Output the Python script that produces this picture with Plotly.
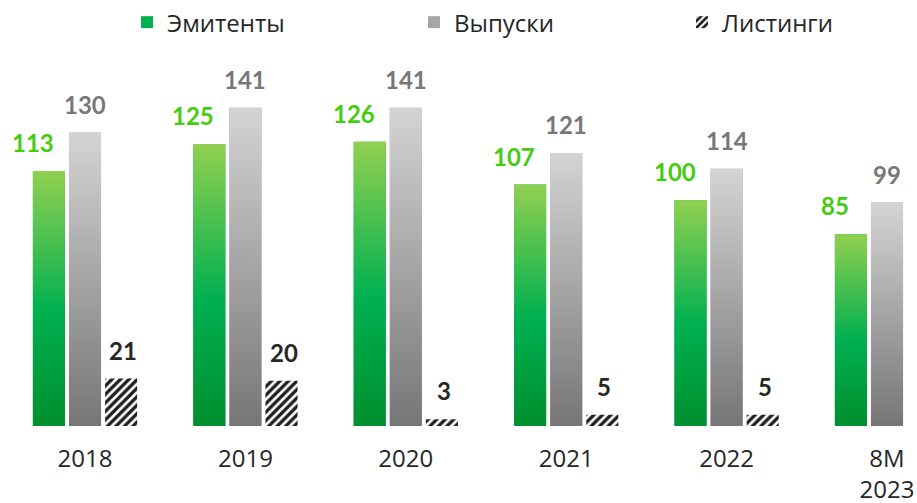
import plotly.graph_objects as go

categories = ["2018", "2019", "2020", "2021", "2022", "8M<br>2023"]
issuers = [113, 125, 126, 107, 100, 85]
issues = [130, 141, 141, 121, 114, 99]
listings = [21, 20, 3, 5, 5, None]
series_names = ["Эмитенты", "Выпуски", "Листинги"]

W = 0.2
offsets = [-0.225, 0.0, 0.225]
idx = list(range(len(categories)))
series = [issuers, issues, listings]

green_scale = [[0, "#008F2E"], [0.45, "#00B050"], [1, "#92D050"]]
gray_scale = [[0, "#767676"], [1, "#D4D4D4"]]

fig = go.Figure()

# base bars (also provide legend entries)
fig.add_trace(go.Bar(name=series_names[0], x=[i + offsets[0] for i in idx], y=issuers, width=W,
                     marker=dict(color="#00B050", line_width=0), legend="legend", hoverinfo="skip"))
fig.add_trace(go.Bar(name=series_names[1], x=[i + offsets[1] for i in idx], y=issues, width=W,
                     marker=dict(color="#A6A6A6", line_width=0), legend="legend2", hoverinfo="skip"))
fig.add_trace(go.Bar(name=series_names[2], x=[i + offsets[2] for i in idx], y=listings, width=W,
                     marker=dict(color="white", line_width=0,
                                 pattern=dict(shape="/", fgcolor="#1E1E1E", bgcolor="white",
                                              fgopacity=1, size=6, solidity=0.55)),
                     legend="legend3", hoverinfo="skip"))

# gradient overlays for first two series
for s, scale in [(0, green_scale), (1, gray_scale)]:
    for i, v in zip(idx, series[s]):
        if v is None:
            continue
        xc = i + offsets[s]
        fig.add_trace(go.Scatter(
            x=[xc - W / 2, xc + W / 2, xc + W / 2, xc - W / 2, xc - W / 2],
            y=[0, 0, v, v, 0],
            mode="lines", fill="toself", line=dict(width=0),
            fillgradient=dict(type="vertical", colorscale=scale),
            hoverinfo="skip", showlegend=False))

# value labels
label_styles = [("#44CC11", -16), ("#777777", 0), ("#262626", 2)]
for s, (col, xs) in enumerate(label_styles):
    for i, v in zip(idx, series[s]):
        if v is None:
            continue
        fig.add_annotation(x=i + offsets[s], y=v, text=str(v), showarrow=False,
                           yanchor="bottom", yshift=12, xshift=xs,
                           font=dict(family="Lato", size=24, color=col, weight="bold"))

legend_common = dict(orientation="h", yanchor="middle", y=1.073, xanchor="left",
                     font=dict(family="Open Sans", size=24, color="#262626"),
                     bgcolor="rgba(0,0,0,0)", borderwidth=0)

fig.update_layout(
    width=917, height=503,
    margin=dict(l=0, r=0, t=50, b=77, autoexpand=False),
    paper_bgcolor="white", plot_bgcolor="white",
    barmode="overlay",
    showlegend=True,
    legend=dict(x=127 / 917, **legend_common),
    legend2=dict(x=414 / 917, **legend_common),
    legend3=dict(x=682 / 917, **legend_common),
    xaxis=dict(range=[-0.530, 5.187], tickmode="array", tickvals=idx, ticktext=categories,
               showgrid=False, zeroline=False, showline=False, ticks="",
               ticklabelstandoff=16, automargin=False,
               tickfont=dict(family="Open Sans", size=24, color="#262626")),
    yaxis=dict(range=[0, 166.6], visible=False, showgrid=False, zeroline=False,
               automargin=False),
)

fig.write_html("out.html", config={"displayModeBar": False},
               post_script="document.body.style.margin='0px';")
